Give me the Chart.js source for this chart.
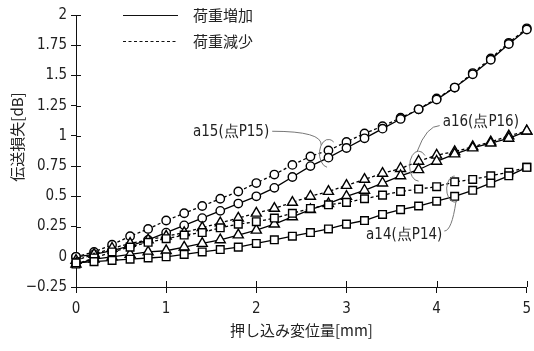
<!DOCTYPE html>
<html><head><meta charset="utf-8">
<script src="https://cdn.jsdelivr.net/npm/chart.js@4/dist/chart.umd.min.js"></script>
<style>html,body{margin:0;padding:0;background:#fff;}#wrap{width:534px;height:351px;}</style>
</head><body><div id="wrap"><canvas id="c" width="534" height="351"></canvas></div>
<script>
// ---- data ----
const xValues = [0,0.2,0.4,0.6,0.8,1,1.2,1.4,1.6,1.8,2,2.2,2.4,2.6,2.8,3,3.2,3.4,3.6,3.8,4,4.2,4.4,4.6,4.8,5];
const a15Increase = [0,0.02,0.05,0.09,0.14,0.20,0.26,0.32,0.38,0.44,0.50,0.57,0.66,0.75,0.82,0.90,0.98,1.06,1.14,1.22,1.30,1.40,1.51,1.63,1.76,1.88];
const a15Decrease = [0,0.04,0.10,0.17,0.23,0.30,0.36,0.42,0.48,0.54,0.61,0.68,0.76,0.83,0.88,0.95,1.02,1.08,1.15,1.22,1.31,1.40,1.52,1.64,1.77,1.89];
const a16Increase = [-0.06,-0.02,0.0,0.02,0.04,0.05,0.08,0.11,0.14,0.18,0.22,0.27,0.33,0.39,0.44,0.50,0.55,0.61,0.67,0.72,0.79,0.85,0.90,0.94,0.98,1.04];
const a16Decrease = [-0.03,0.02,0.07,0.11,0.14,0.17,0.20,0.24,0.28,0.32,0.36,0.40,0.45,0.50,0.54,0.59,0.64,0.69,0.73,0.79,0.84,0.87,0.91,0.95,1.00,1.04];
const a14Increase = [-0.05,-0.04,-0.03,-0.02,-0.01,0.0,0.02,0.04,0.06,0.08,0.11,0.14,0.17,0.20,0.23,0.27,0.30,0.35,0.39,0.42,0.46,0.50,0.55,0.61,0.67,0.74];
const a14Decrease = [-0.06,-0.01,0.04,0.08,0.12,0.15,0.18,0.20,0.24,0.27,0.29,0.32,0.36,0.40,0.43,0.45,0.48,0.51,0.54,0.56,0.58,0.62,0.64,0.67,0.70,0.74];
const xTickValues = [0,1,2,3,4,5];
const yTickValues = [-0.25,0,0.25,0.5,0.75,1,1.25,1.5,1.75,2];
const yTickLabels = ['\u22120.25','0','0.25','0.5','0.75','1','1.25','1.5','1.75','2'];
const legendLabels = ['荷重増加','荷重減少'];
const xTitle = '押し込み変位量[mm]';
const yTitle = '伝送損失[dB]';
const notes = [
  {text:'a15(点P15)', x:1.72, y:1.03, ex:2.8, ey:0.855},
  {text:'a16(点P16)', x:4.49, y:1.11, ex:3.8, ey:0.75},
  {text:'a14(点P14)', x:3.64, y:0.18, ex:4.2, ey:0.56}
];
// ---- build ----
const NARROW = '"DejaVu Sans Condensed","Liberation Sans Narrow","Liberation Sans",sans-serif';
const CJK = '"Noto Sans CJK JP","Noto Sans",sans-serif';
function pts(arr){ return xValues.map((x,i)=>({x:x,y:arr[i]})); }
function ds(arr, dashed, shape, r){
  return {data:pts(arr), borderColor:'#000', borderWidth:1.3, borderDash: dashed?[3,2.5]:[],
    pointStyle:shape, pointRadius:r, pointBackgroundColor:'#fff', pointBorderColor:'#000',
    pointBorderWidth:1.4, tension:0, fill:false, clip:false};
}
const datasets = [
  ds(a14Increase,false,'rect',5.4), ds(a14Decrease,true,'rect',5.4),
  ds(a16Increase,false,'triangle',5.8), ds(a16Decrease,true,'triangle',5.8),
  ds(a15Increase,false,'circle',4.2), ds(a15Decrease,true,'circle',4.2)
];
const deco = {
  id:'deco',
  afterDraw(chart){
    const ctx = chart.ctx, xs = chart.scales.x, ys = chart.scales.y, a = chart.chartArea;
    ctx.save();
    ctx.strokeStyle = '#111'; ctx.lineWidth = 1;
    yTickValues.forEach(v=>{ const p = Math.round(ys.getPixelForValue(v))+0.5;
      ctx.beginPath(); ctx.moveTo(a.left, p); ctx.lineTo(a.left+5, p); ctx.stroke(); });
    xTickValues.forEach(v=>{ const p = Math.round(xs.getPixelForValue(v))+0.5;
      ctx.beginPath(); ctx.moveTo(p, a.bottom); ctx.lineTo(p, a.bottom-6); ctx.stroke(); });
    // legend
    const lx0 = a.left+47, lx1 = a.left+102;
    [0,1].forEach(i=>{
      const y = a.top + i*26 + 0.5;
      ctx.setLineDash(i? [3,2.5]:[]); ctx.beginPath(); ctx.moveTo(lx0,y); ctx.lineTo(lx1,y); ctx.stroke();
      ctx.setLineDash([]);
      ctx.fillStyle='#222'; ctx.font = '15px '+CJK; ctx.textBaseline='middle'; ctx.textAlign='left';
      ctx.fillText(legendLabels[i], a.left+117, y);
    });
    // y title
    ctx.save();
    ctx.translate(17, (a.top+a.bottom)/2 - 14); ctx.rotate(-Math.PI/2);
    ctx.font = '15px '+CJK; ctx.textAlign='center'; ctx.textBaseline='middle'; ctx.fillStyle='#222';
    ctx.fillText(yTitle, 0, 0);
    ctx.restore();
    // annotations
    ctx.font = '15px '+NARROW; ctx.fillStyle='#222'; ctx.textAlign='center'; ctx.textBaseline='middle';
    ctx.strokeStyle = '#777'; ctx.lineWidth = 1;
    notes.forEach((n,i)=>{
      const tx = xs.getPixelForValue(n.x), ty = ys.getPixelForValue(n.y);
      const cx = xs.getPixelForValue(n.ex), cy = ys.getPixelForValue(n.ey);
      ctx.fillText(n.text, tx, ty);
      const w = ctx.measureText(n.text).width;
      ctx.beginPath();
      if(i===0){
        ctx.ellipse(cx,cy,9,14,0,0.55*Math.PI,1.7*Math.PI);
        ctx.moveTo(tx+w/2+3, ty-1);
        ctx.quadraticCurveTo(cx-6, ty-1, cx+9*Math.cos(1.2*Math.PI), cy+14*Math.sin(1.2*Math.PI));
      } else if(i===1){
        ctx.ellipse(cx,cy,9,15,0,0.5*Math.PI,1.75*Math.PI);
        ctx.moveTo(tx-w/2-3, ty+3);
        ctx.quadraticCurveTo(cx+8, ty+3, cx+9*Math.cos(1.45*Math.PI), cy+15*Math.sin(1.45*Math.PI));
      } else {
        ctx.ellipse(cx,cy,8,13,0,0.4*Math.PI,1.5*Math.PI);
        ctx.moveTo(tx+w/2+2, ty-4);
        ctx.quadraticCurveTo(cx-3, ty-4, cx+8*Math.cos(0.45*Math.PI), cy+13*Math.sin(0.45*Math.PI));
      }
      ctx.stroke();
    });
    ctx.restore();
  }
};
new Chart(document.getElementById('c'), {
  type:'line',
  data:{datasets:datasets},
  options:{
    responsive:false, animation:false, devicePixelRatio:1,
    layout:{padding:{left:0,right:3,top:15,bottom:0}},
    plugins:{legend:{display:false}, tooltip:{enabled:false}},
    scales:{
      x:{type:'linear', min:0, max:5,
        afterBuildTicks(s){ s.ticks = xTickValues.map(v=>({value:v})); },
        afterFit(s){ s.height = 64; s.paddingLeft = 0; s.paddingRight = 0; },
        ticks:{color:'#222', font:{family:NARROW, size:15}, padding:7, maxRotation:0,
          callback:(v)=>String(v)},
        grid:{display:true, drawOnChartArea:false, drawTicks:true, tickLength:6, color:'#111'},
        border:{display:true, color:'#111', width:1},
        title:{display:true, text:xTitle, color:'#222', font:{family:CJK, size:15}, padding:{top:0,bottom:12}}
      },
      y:{type:'linear', min:-0.25, max:2,
        afterBuildTicks(s){ s.ticks = yTickValues.map(v=>({value:v})); },
        afterFit(s){ s.width = 76; s.paddingTop = 0; s.paddingBottom = 0; },
        ticks:{color:'#222', font:{family:NARROW, size:15}, padding:4,
          callback:(v)=>{ const i = yTickValues.indexOf(v); return i>=0? yTickLabels[i] : ''; }},
        grid:{display:true, drawOnChartArea:false, drawTicks:true, tickLength:5, color:'#111'},
        border:{display:true, color:'#111', width:1}
      }
    }
  },
  plugins:[deco]
});
</script></body></html>
